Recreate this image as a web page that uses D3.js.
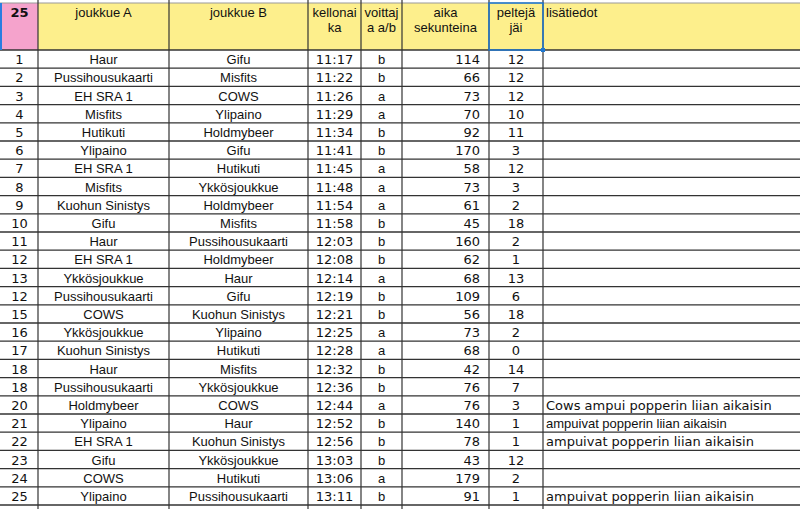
<!DOCTYPE html>
<html lang="fi">
<head>
<meta charset="UTF-8" />
<script src="https://d3js.org/d3.v7.min.js"></script>
<style>body{margin:0;background:#fff}</style>
</head>
<body>
<script>
// data
var nro = [1,2,3,4,5,6,7,8,9,10,11,12,13,12,15,16,17,18,18,20,21,22,23,24,25];
var joukkueA = ["Haur","Pussihousukaarti","EH SRA 1","Misfits","Hutikuti","Ylipaino","EH SRA 1","Misfits","Kuohun Sinistys","Gifu","Haur","EH SRA 1","Ykkösjoukkue","Pussihousukaarti","COWS","Ykkösjoukkue","Kuohun Sinistys","Haur","Pussihousukaarti","Holdmybeer","Ylipaino","EH SRA 1","Gifu","COWS","Ylipaino"];
var joukkueB = ["Gifu","Misfits","COWS","Ylipaino","Holdmybeer","Gifu","Hutikuti","Ykkösjoukkue","Holdmybeer","Misfits","Pussihousukaarti","Holdmybeer","Haur","Gifu","Kuohun Sinistys","Ylipaino","Hutikuti","Misfits","Ykkösjoukkue","COWS","Haur","Kuohun Sinistys","Ykkösjoukkue","Hutikuti","Pussihousukaarti"];
var kello = ["11:17","11:22","11:26","11:29","11:34","11:41","11:45","11:48","11:54","11:58","12:03","12:08","12:14","12:19","12:21","12:25","12:28","12:32","12:36","12:44","12:52","12:56","13:03","13:06","13:11"];
var voittaja = ["b","b","a","a","b","b","a","a","a","b","b","b","a","b","b","a","a","b","b","a","b","b","b","a","b"];
var aika = [114,66,73,70,92,170,58,73,61,45,160,62,68,109,56,73,68,42,76,76,140,78,43,179,91];
var peltit = [12,12,12,10,11,3,12,3,2,18,2,1,13,6,18,2,0,14,7,3,1,1,12,2,1];
var lisa = ["","","","","","","","","","","","","","","","","","","","Cows ampui popperin liian aikaisin","ampuivat popperin liian aikaisin","ampuivat popperin liian aikaisin","","","ampuivat popperin liian aikaisin"];
var otsikot = ["25","joukkue A","joukkue B","kellonai|ka","voittaj|a a/b","aika|sekunteina","peltejä|jäi","lisätiedot"];

var W = 800, H = 509;
var edges = [1, 38, 169, 308, 361, 402, 489, 543, 800];
var svg = d3.select("body").append("svg").attr("width", W).attr("height", H);

var y = d3.scaleBand().domain(d3.range(nro.length)).range([50, 505]);
var cols = [
  {v: nro, a: "middle", f: "DejaVu Sans"},
  {v: joukkueA, a: "middle", f: "Liberation Sans"},
  {v: joukkueB, a: "middle", f: "Liberation Sans"},
  {v: kello, a: "middle", f: "DejaVu Sans"},
  {v: voittaja, a: "middle", f: "Liberation Sans"},
  {v: aika, a: "end", f: "DejaVu Sans"},
  {v: peltit, a: "middle", f: "DejaVu Sans"},
  {v: lisa, a: "start", f: "DejaVu Sans"}
];

// header backgrounds
svg.append("rect").attr("x", edges[0]).attr("y", 3).attr("width", edges[1]-edges[0]).attr("height", 47).attr("fill", "#f5a3cc");
svg.append("rect").attr("x", edges[1]).attr("y", 3).attr("width", W-edges[1]).attr("height", 47).attr("fill", "#fdef8c");

otsikot.forEach(function(t, i) {
  var x0 = edges[i], x1 = edges[i+1];
  var tx = svg.append("text")
    .attr("x", i == 7 ? x0 + 3 : (x0+x1)/2)
    .attr("y", 17)
    .attr("text-anchor", i == 7 ? "start" : "middle")
    .attr("font-family", i == 0 ? "DejaVu Sans" : "Liberation Sans")
    .attr("font-weight", i == 0 ? "bold" : null)
    .attr("font-size", 13).attr("fill", "#111");
  t.split("|").forEach(function(s, k) {
    tx.append("tspan").attr("x", i == 7 ? x0 + 3 : (x0+x1)/2).attr("dy", k ? 15 : 0).text(s);
  });
});

// cells
cols.forEach(function(c, i) {
  var x0 = edges[i], x1 = edges[i+1];
  svg.selectAll(null).data(c.v).enter().append("text")
    .attr("x", c.a == "middle" ? (x0+x1)/2 : c.a == "end" ? x1 - 9 : x0 + 3)
    .attr("y", function(d, j) { return y(j) + y.bandwidth()/2 + 5; })
    .attr("text-anchor", c.a)
    .attr("font-family", function(d, j) { return (i == 7 && j == 20) ? "Liberation Sans" : c.f; })
    .attr("font-size", 13).attr("fill", "#111")
    .text(function(d) { return d; });
});

// grid
svg.selectAll(null).data(d3.range(nro.length + 1)).enter().append("line")
  .attr("x1", 0).attr("x2", W)
  .attr("y1", function(j) { return j < nro.length ? y(j) : 505; })
  .attr("y2", function(j) { return j < nro.length ? y(j) : 505; })
  .attr("stroke", "#333").attr("stroke-width", 1.3);
svg.append("line").attr("x1", 0).attr("x2", W).attr("y1", 3).attr("y2", 3).attr("stroke", "#999");
svg.selectAll(null).data(edges.slice(1, 8)).enter().append("line")
  .attr("x1", function(d) { return d; }).attr("x2", function(d) { return d; })
  .attr("y1", 0).attr("y2", H).attr("stroke", "#333").attr("stroke-width", 1.2);
svg.append("line").attr("x1", 1).attr("x2", 1).attr("y1", 3).attr("y2", 50).attr("stroke", "#2a7de1").attr("stroke-width", 2);
// selected cell
svg.append("rect").attr("x", edges[6]).attr("y", 3).attr("width", edges[7]-edges[6]).attr("height", 47)
  .attr("fill", "none").attr("stroke", "#1f78d1").attr("stroke-width", 1.5);
svg.append("rect").attr("x", edges[7]-2).attr("y", 48).attr("width", 4).attr("height", 4).attr("fill", "#1f78d1");
</script>
</body>
</html>
